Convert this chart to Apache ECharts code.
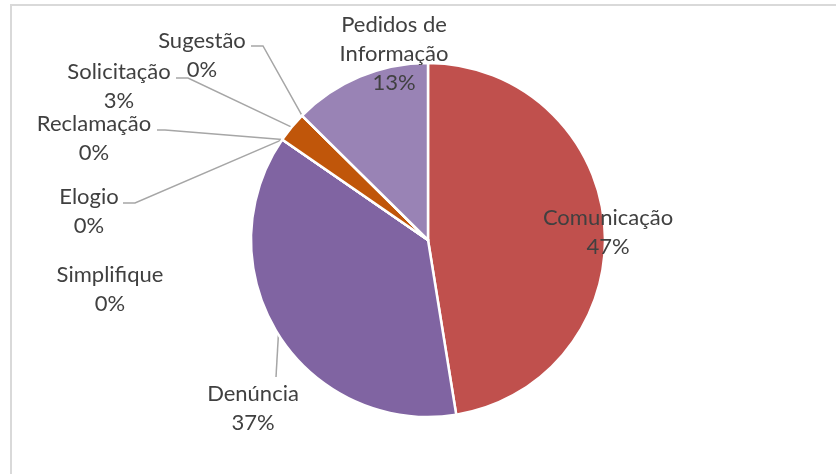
<!DOCTYPE html>
<html>
<head>
<meta charset="utf-8">
<script src="https://cdn.jsdelivr.net/npm/echarts@6/dist/echarts.min.js"></script>
<style>
html,body{margin:0;padding:0;background:#fff;}
#chart{width:836px;height:474px;}
</style>
</head>
<body>
<div id="chart"></div>
<script>
// ---- data ----
var categories = ['Comunicação', 'Denúncia', 'Simplifique', 'Elogio', 'Reclamação', 'Solicitação', 'Sugestão', 'Pedidos de Informação'];
var values = [47.45, 37.15, 0, 0, 0, 2.8, 0, 12.6];
var colors = ['#C0504D', '#8064A2', '#4BACC6', '#9BBB59', '#4F81BD', '#C0560A', '#F79646', '#9983B5'];

// ---- label placement (layout only) ----
var labelPos = [
  {x: 608, y: 232, line: null},
  {x: 253, y: 408, line: [[276, 377], [276, 377]]},
  {x: 110, y: 289, line: null},
  {x: 89, y: 211, line: [[135, 203], [123, 203]]},
  {x: 94, y: 138, line: [[165, 130], [157, 130]]},
  {x: 119, y: 86, line: [[188, 78], [176, 78]]},
  {x: 202, y: 55, line: [[263, 46], [251, 46]]},
  {x: 394, y: 54, line: null}
];

var chart = echarts.init(document.getElementById('chart'), null, {renderer: 'canvas'});
var data = categories.map(function (c, i) {
  return {
    name: c,
    value: values[i],
    itemStyle: {color: colors[i]},
    labelLine: {show: labelPos[i].line !== null}
  };
});

chart.setOption({
  animation: false,
  graphic: [{
    type: 'rect',
    shape: {x: 11, y: 5, width: 900, height: 600},
    style: {fill: 'none', stroke: '#D9D9D9', lineWidth: 2},
    silent: true
  }],
  series: [{
    type: 'pie',
    center: [428, 240],
    radius: 177,
    startAngle: 90,
    clockwise: true,
    percentPrecision: 0,
    avoidLabelOverlap: false,
    data: data,
    itemStyle: {borderColor: '#ffffff', borderWidth: 2.5},
    label: {
      show: true,
      position: 'outside',
      formatter: function (p) {
        var n = p.name.length > 14 ? p.name.replace(/ (\S+)$/, '\n$1') : p.name;
        return n + '\n' + p.percent + '%';
      },
      fontFamily: 'Lato',
      fontSize: 22,
      lineHeight: 29,
      color: '#404040',
      align: 'center'
    },
    labelLine: {
      show: true,
      lineStyle: {color: '#A6A6A6', width: 1.5}
    },
    labelLayout: function (params) {
      var lp = labelPos[params.dataIndex];
      var res = {x: lp.x, y: lp.y, align: 'center', verticalAlign: 'middle'};
      if (lp.line && params.labelLinePoints) {
        var p0 = params.labelLinePoints[0];
        res.labelLinePoints = [p0, lp.line[0], lp.line[1]];
      }
      return res;
    }
  }]
});
</script>
</body>
</html>
